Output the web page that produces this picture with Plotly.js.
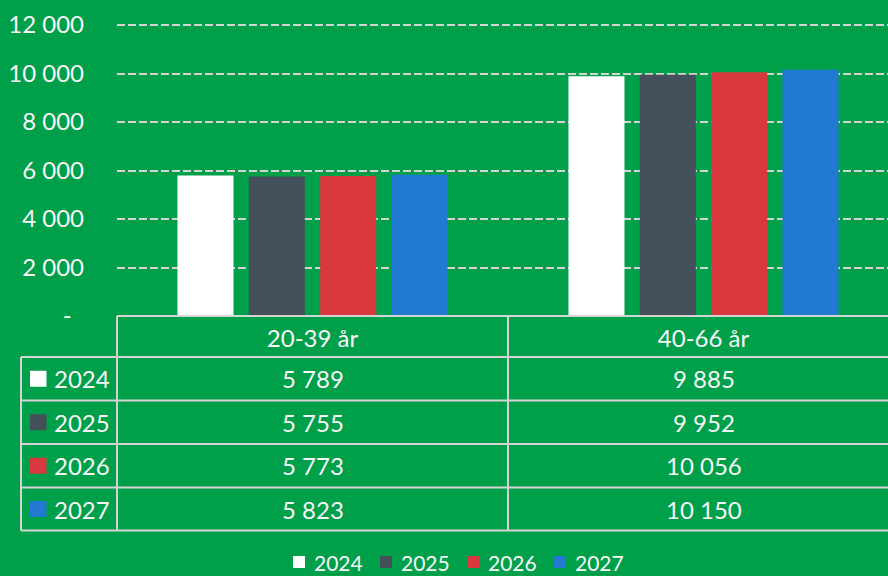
<!DOCTYPE html>
<html>
<head>
<meta charset="utf-8">
<script src="https://cdn.plot.ly/plotly-3.0.1.min.js"></script>
<style>html,body{margin:0;padding:0;background:#009F4A;}#chart{width:888px;height:576px;}</style>
</head>
<body>
<div id="chart"></div>
<script>
// ---- data ----
const categories = ['20-39 år', '40-66 år'];
const years = ['2024', '2025', '2026', '2027'];
const values2024 = [5789, 9885];
const values2025 = [5755, 9952];
const values2026 = [5773, 10056];
const values2027 = [5823, 10150];
const yTickVals = [0, 2000, 4000, 6000, 8000, 10000, 12000];
const yTickText = ['-\u00a0\u00a0', '2 000', '4 000', '6 000', '8 000', '10 000', '12 000'];

// ---- styles ----
const colors = ['#FFFFFF', '#454F59', '#D9383E', '#2179D2'];
const bg = '#009F4A';
const lineCol = '#D4D4D4';
const txtCol = '#F7F7F7';
const FONT = 'Lato, "Open Sans", sans-serif';

const W = 888, H = 576;
const L = 117, R = 0, T = 20, B = 260;
const plotW = W - L - R, plotH = H - T - B;
const px = x => (x - L) / plotW;           // pixel x -> paper
const py = y => (H - B - y) / plotH;      // pixel y -> paper
const yMax = 12000 * plotH / 291;         // 12 000 lands at 25px from top

const series = [values2024, values2025, values2026, values2027];
const fmt = v => String(v).replace(/\B(?=(\d{3})+(?!\d))/g, '\u00a0');

const traces = series.map((vals, i) => ({
  type: 'bar',
  name: years[i],
  x: categories,
  y: vals,
  marker: {color: colors[i]},
  hoverinfo: 'skip'
}));

// ---- data table ----
const shapes = [];
const annotations = [];
const line = {color: lineCol, width: 2};
const headerTop = 316, rowEdges = [357, 400.5, 444, 487.5, 530.5];
const leftEdge = 21, colSep0 = 117, colSep1 = 508, rightEdge = 900;

shapes.push({type: 'line', xref: 'paper', yref: 'paper', x0: px(colSep0), x1: px(rightEdge), y0: py(headerTop), y1: py(headerTop), line});
rowEdges.forEach(y => shapes.push({type: 'line', xref: 'paper', yref: 'paper', x0: px(leftEdge), x1: px(rightEdge), y0: py(y), y1: py(y), line}));
shapes.push({type: 'line', xref: 'paper', yref: 'paper', x0: px(leftEdge), x1: px(leftEdge), y0: py(rowEdges[0]), y1: py(rowEdges[4]), line});
shapes.push({type: 'line', xref: 'paper', yref: 'paper', x0: px(colSep0), x1: px(colSep0), y0: py(headerTop), y1: py(rowEdges[4]), line});
shapes.push({type: 'line', xref: 'paper', yref: 'paper', x0: px(colSep1), x1: px(colSep1), y0: py(headerTop), y1: py(rowEdges[4]), line});

const tableFont = {family: FONT, size: 24, color: txtCol};
series.forEach((vals, i) => {
  const yc = (rowEdges[i] + rowEdges[i + 1]) / 2;
  shapes.push({type: 'rect', xref: 'paper', yref: 'paper', x0: px(30), x1: px(46.5), y0: py(yc - 8), y1: py(yc + 8), fillcolor: colors[i], line: {width: 0}});
  annotations.push({xref: 'paper', yref: 'paper', x: px(52), y: py(yc), xanchor: 'left', yanchor: 'middle', text: years[i], showarrow: false, font: tableFont});
  vals.forEach((v, j) => {
    annotations.push({xref: 'x', yref: 'paper', x: j, y: py(yc), xanchor: 'center', yanchor: 'middle', text: fmt(v), showarrow: false, font: tableFont});
  });
});

// ---- bottom legend ----
const legendFont = {family: FONT, size: 21, color: txtCol};
years.forEach((yr, i) => {
  const x0 = 293 + i * 87;
  const yc = 562;
  shapes.push({type: 'rect', xref: 'paper', yref: 'paper', x0: px(x0), x1: px(x0 + 12), y0: py(yc - 6), y1: py(yc + 6), fillcolor: colors[i], line: {width: 0}});
  annotations.push({xref: 'paper', yref: 'paper', x: px(x0 + 19), y: py(yc), xanchor: 'left', yanchor: 'middle', text: yr, showarrow: false, font: legendFont});
});

const layout = {
  width: W, height: H,
  margin: {l: L, r: R, t: T, b: B, pad: 0},
  paper_bgcolor: bg, plot_bgcolor: bg,
  showlegend: false,
  barmode: 'group',
  bargap: 0.27,
  bargroupgap: 0.215,
  font: {family: FONT, size: 24, color: txtCol},
  xaxis: {
    type: 'category',
    range: [-0.5, -0.5 + plotW / 391],
    showgrid: false, zeroline: false, showline: false, ticks: '',
    tickfont: {family: FONT, size: 24, color: txtCol},
    ticklabelstandoff: 6,
    fixedrange: true
  },
  yaxis: {
    range: [0, yMax],
    tickvals: yTickVals,
    ticktext: yTickText,
    showgrid: true, gridcolor: lineCol, gridwidth: 2, griddash: '8px,3px',
    zeroline: false, showline: false, ticks: '',
    tickfont: {family: FONT, size: 24, color: txtCol},
    ticklabelstandoff: 32,
    fixedrange: true
  },
  shapes, annotations
};

Plotly.newPlot('chart', traces, layout, {displayModeBar: false, staticPlot: true});
</script>
</body>
</html>
